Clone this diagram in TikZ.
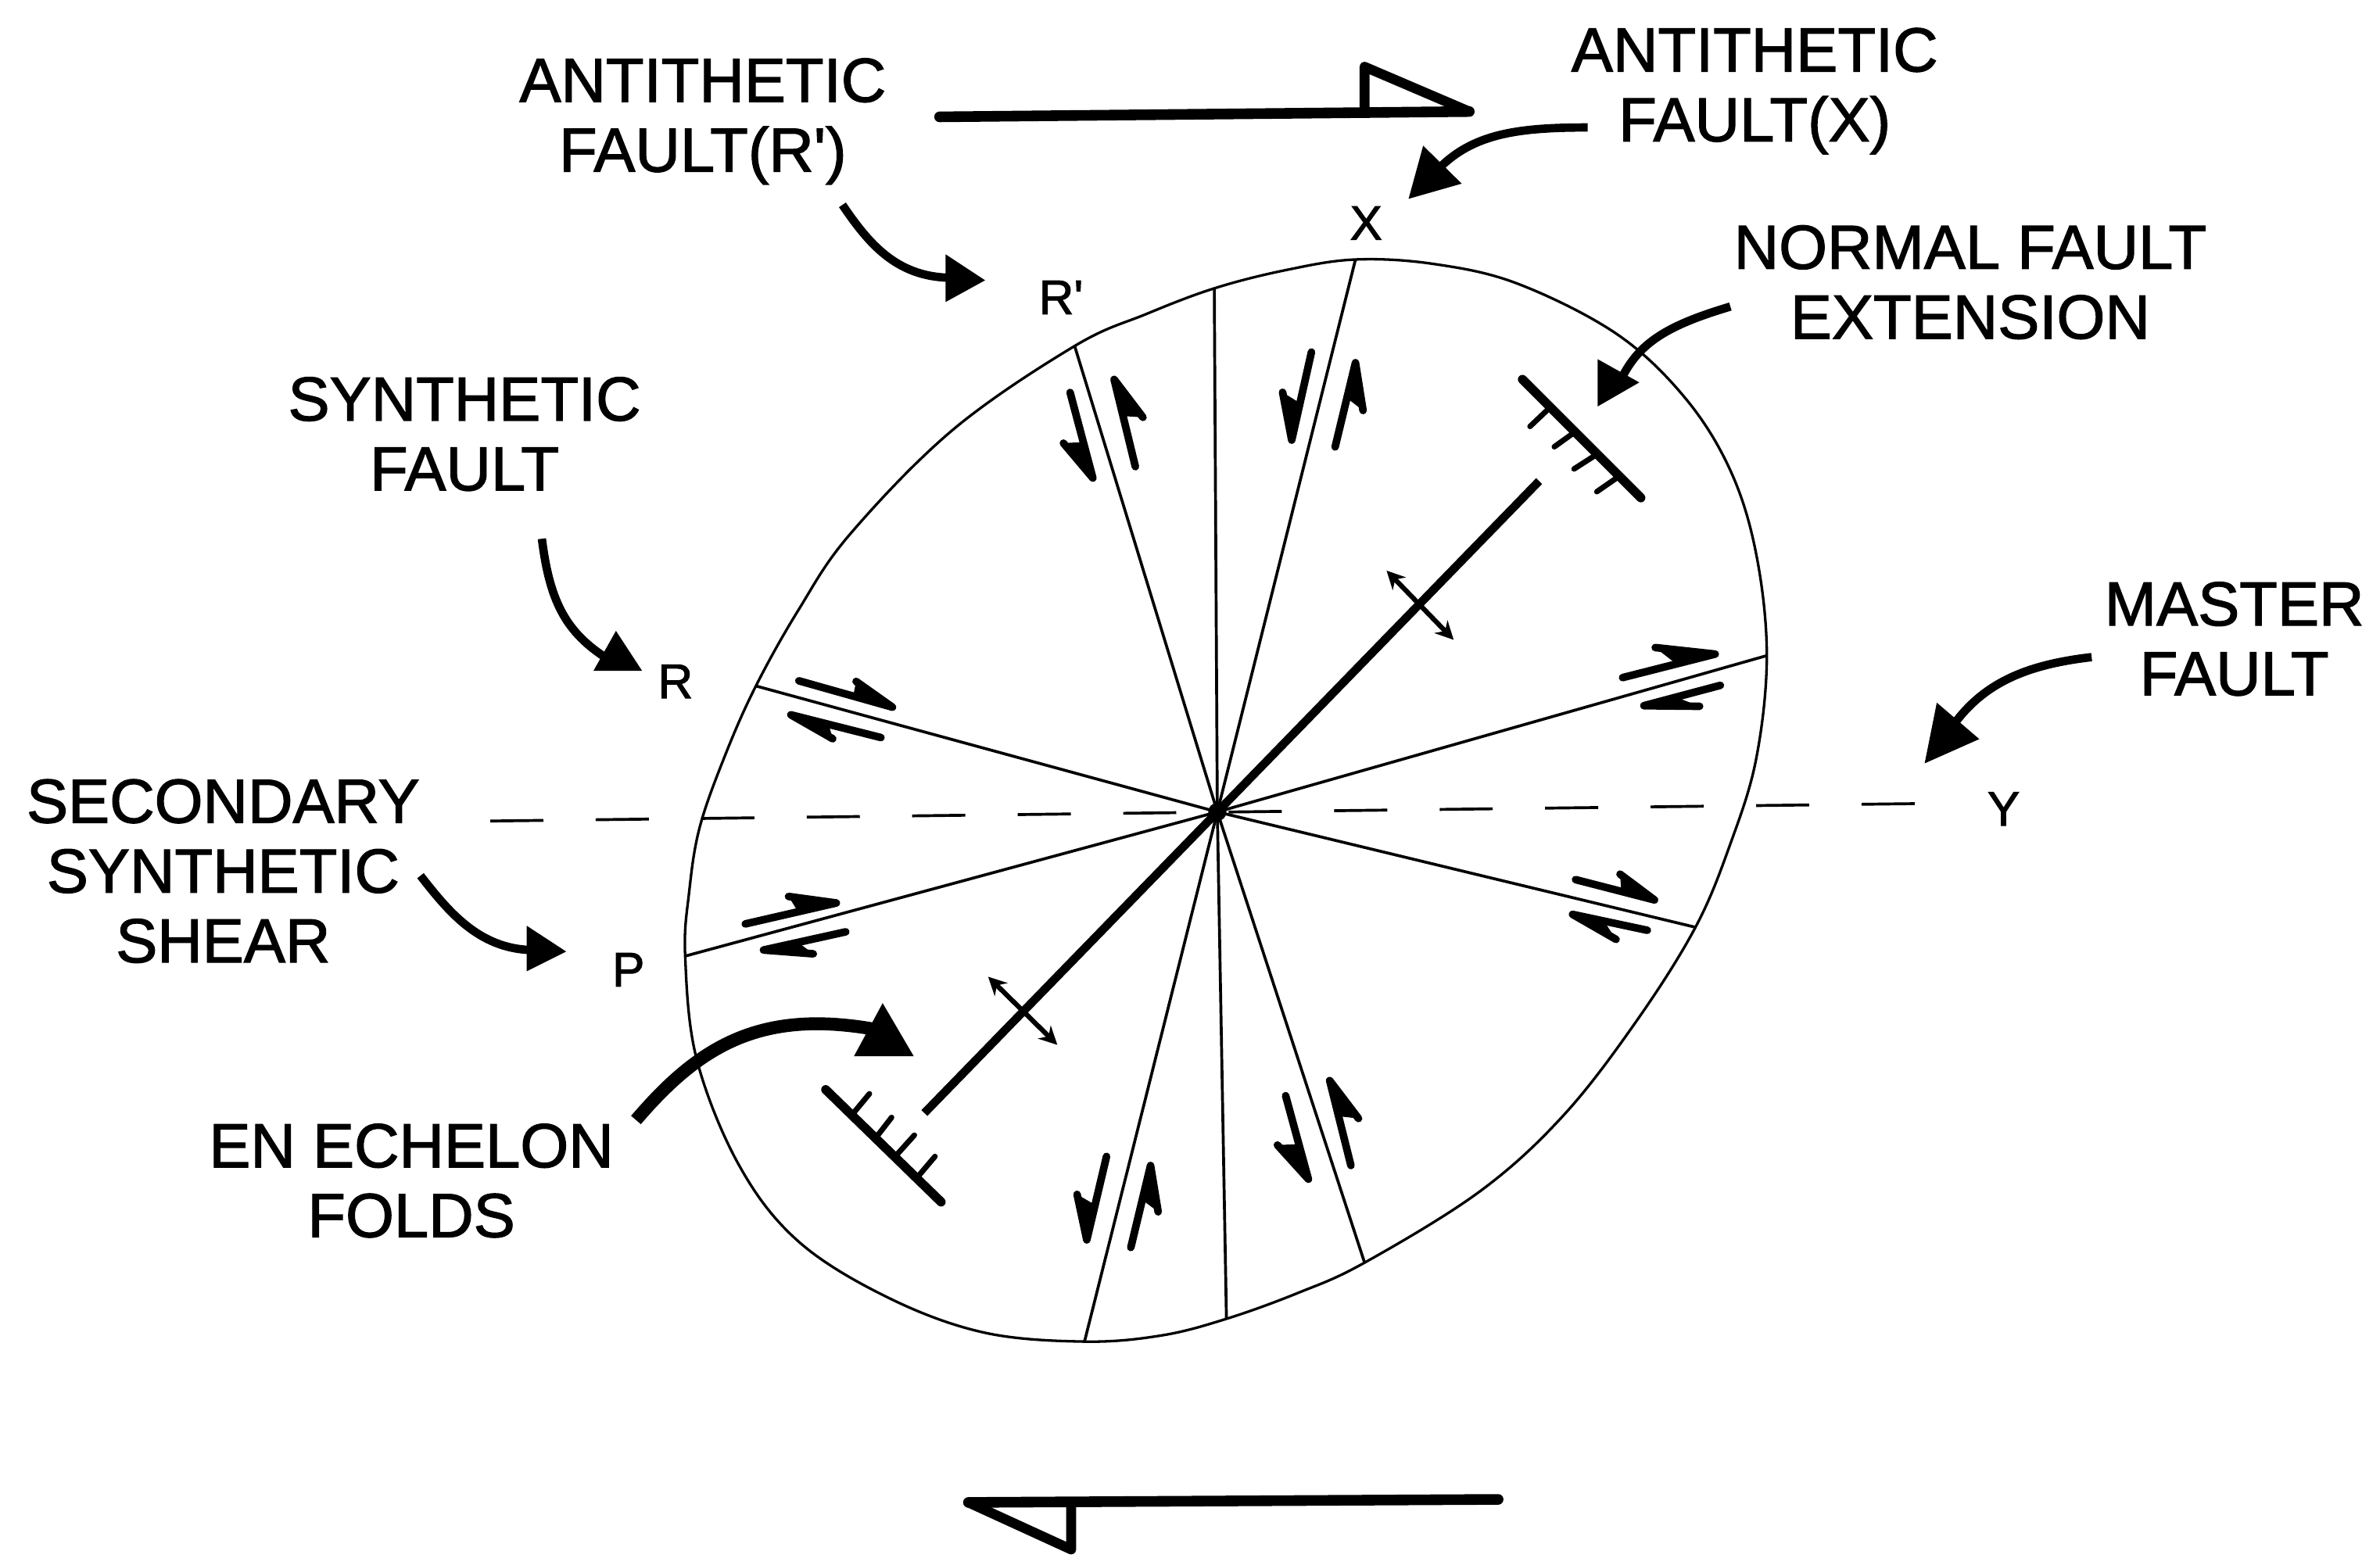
\documentclass[tikz,border=0pt]{standalone}
\usepackage{fontspec}
\setmainfont{Liberation Sans}
\newfontfamily\lblfont{Liberation Sans}[FakeBold=1.6]
\usetikzlibrary{arrows.meta,calc}
\tikzset{
  x=1pt,y=-1pt,
  lbl/.style={inner sep=0pt,align=center,font=\lblfont\fontsize{41}{46}\selectfont},
  letter/.style={inner sep=0pt,font=\lblfont\fontsize{32}{36}\selectfont},
  rim/.style={line width=1.7pt},
  faultline/.style={line width=1.9pt},
  halfarrow/.style={line width=5pt,line join=round,line cap=round},
  leader/.style={line width=5.5pt},
  leaderhead/.style={fill=black,draw=none},
  foldline/.style={line width=5.5pt},
  barline/.style={line width=6pt,line cap=round},
  tickline/.style={line width=3.6pt,line cap=round},
  crossarrow/.style={line width=3.2pt,{Stealth[length=12pt,width=12pt]}-{Stealth[length=12pt,width=12pt]}},
  sense/.style={line width=7pt,line cap=round},
  sensehead/.style={line width=6.5pt,line join=round},
}
\newcommand{\halfarr}[3]{\draw[halfarrow] #1 -- #2 -- #3;\fill #2 -- #3 -- ($#2!0.42!#1$) -- cycle;}
\begin{document}
\begin{tikzpicture}
\useasboundingbox (0,0) rectangle (1568,1026.6);
\fill[white] (0,0) rectangle (1568,1026.6);
% outline
\draw[rim] plot[smooth cycle,tension=0.6] coordinates {
 (893,171) (945,174) (1000,187) (1065,220) (1110,262) (1140,310) (1157,365) (1164,432) (1157,500) (1140,556) (1117,611)
 (1078,673) (1030,735) (975,785) (899,832) (855,852) (808,869) (765,880) (714.5,884) (648,878) (585,855) (526,818) (487,768)
 (459,698) (451.4,630) (454,588) (461,545) (478,497) (498,452) (526,402) (560,352) (628,283) (708,228) (755,207) (800,190) (847,178)};
% centre and rim ends
\coordinate (C) at (802,535);
\coordinate (rRp) at (708,228);
\coordinate (rT) at (800,190);
\coordinate (rX) at (893,171);
\coordinate (rE1) at (1164,432);
\coordinate (rE2) at (1117,611);
\coordinate (rB1) at (899,832);
\coordinate (rB2) at (808,869);
\coordinate (rB3) at (714.5,884);
\coordinate (rP) at (451.4,630);
\coordinate (rR) at (498,452);
\foreach \e in {rRp,rT,rX,rE1,rE2,rB1,rB2,rB3,rP,rR}{\draw[faultline] (C) -- (\e);}
\fill (C) circle (6pt);
% dashed axis
\coordinate (dA) at (323,541);
\coordinate (dB) at (1265,529.5);
\draw[line width=1.9pt,dash pattern=on 35pt off 34.5pt] (dA) -- (dB);
% fold axes
\coordinate (fU) at (1014,317);
\coordinate (fL) at (609,733.4);
\draw[foldline] (C) -- (fU);
\draw[foldline] (C) -- (fL);
% normal fault bars
\draw[barline] (1003,250) -- (1081,328);
\draw[tickline] (1021.7,268) -- (1008,281);
\draw[tickline] (1038.5,284) -- (1024,294.4);
\draw[tickline] (1052.6,299) -- (1037,309);
\draw[tickline] (1067,313.6) -- (1052,324);
\draw[barline] (544,718) -- (620,792);
\draw[tickline] (561.8,734) -- (572.8,720.7);
\draw[tickline] (576.8,750) -- (587.4,736.3);
\draw[tickline] (590,761.8) -- (602.4,748);
\draw[tickline] (605,775) -- (616,762);
% extension arrows
\draw[crossarrow] (913.5,376) -- (957.7,421.6);
\draw[crossarrow] (651,643.6) -- (696.6,688.5);
% half arrows
\halfarr{(705,258.6)}{(720,315)}{(700.6,292)}
\halfarr{(748,307.5)}{(734,250)}{(753,275)}
\halfarr{(864,232)}{(851,290)}{(845,258.5)}
\halfarr{(879.6,294.5)}{(893,239)}{(898,270.5)}
\halfarr{(729,762)}{(716,817)}{(709.6,787)}
\halfarr{(745,822)}{(758,768)}{(763,798.5)}
\halfarr{(847,722)}{(862,777)}{(841.6,754.5)}
\halfarr{(890,768)}{(876,712)}{(895,737)}
\halfarr{(526.3,448.6)}{(588,466)}{(564,449)}
\halfarr{(580.4,486)}{(521,471)}{(548.6,486.8)}
\halfarr{(491,608.8)}{(551,595)}{(519.5,590.7)}
\halfarr{(557.2,614)}{(503,626)}{(535.8,628.5)}
\halfarr{(1069,446.5)}{(1130,431)}{(1090.5,426.7)}
\halfarr{(1133.4,451.6)}{(1083,465)}{(1119.7,465.4)}
\halfarr{(1038,579.6)}{(1090,593)}{(1067.3,576)}
\halfarr{(1085.3,613)}{(1036,602.5)}{(1064.7,619)}
% shear sense arrows
\coordinate (sT1) at (619,77);
\coordinate (sT2) at (968,73.5);
\draw[sense] (sT1) -- (sT2);
\draw[sensehead] (899,72) -- (899,44) -- (sT2);
\coordinate (sB1) at (987,988);
\coordinate (sB2) at (638,990);
\draw[sense] (sB1) -- (sB2);
\draw[sensehead] (705.7,990) -- (705.7,1021) -- (sB2);
% labels
\node[lbl] (lRp) at (463,80) {ANTITHETIC\\FAULT(R\textquotesingle)};
\node[lbl] (lX) at (1156,60) {ANTITHETIC\\FAULT(X)};
\node[lbl] (lN) at (1298,186) {NORMAL FAULT\\EXTENSION};
\node[lbl] (lS) at (306,286) {SYNTHETIC\\FAULT};
\node[lbl] (lM) at (1472,421) {MASTER\\FAULT};
\node[lbl] (lSS) at (147,574) {SECONDARY\\SYNTHETIC\\SHEAR};
\node[lbl] (lE) at (271,778) {EN ECHELON\\FOLDS};
\node[letter] (pX) at (900,147) {X};
\node[letter] (pRp) at (699,196) {R\textquotesingle};
\node[letter] (pR) at (445,449) {R};
\node[letter] (pY) at (1320,533) {Y};
\node[letter] (pP) at (414,639) {P};
% leaders
\draw[leader] (555,135) .. controls (572,160) and (590,182) .. (625,183);
\fill[leaderhead] (649,184.7) -- (623,167.6) -- (623,199) -- cycle;
\draw[leader] (357,355) .. controls (362,395) and (372,415) .. (397,432);
\fill[leaderhead] (405.8,415.7) -- (391,442) -- (423,442) -- cycle;
\draw[leader] (1046,84) .. controls (1000,84) and (970,88) .. (947,112);
\fill[leaderhead] (928,131) -- (937.6,96) -- (963,121) -- cycle;
\draw[leader] (1140,202) .. controls (1100,214) and (1080,225) .. (1068,250);
\fill[leaderhead] (1052.6,267.8) -- (1052.6,236.7) -- (1080,252) -- cycle;
\draw[leader] (1378,433) .. controls (1335,438) and (1305,450) .. (1284,482);
\fill[leaderhead] (1268,503) -- (1276,463) -- (1304,487) -- cycle;
\draw[leader] (277,577) .. controls (295,600) and (315,625) .. (350,626);
\fill[leaderhead] (373,627) -- (347,610) -- (347,640) -- cycle;
\draw[line width=8.5pt] (419,738) .. controls (460,690) and (500,665) .. (575,678);
\fill[leaderhead] (581.5,661) -- (562.6,696) -- (602,696) -- cycle;
\end{tikzpicture}
\end{document}
